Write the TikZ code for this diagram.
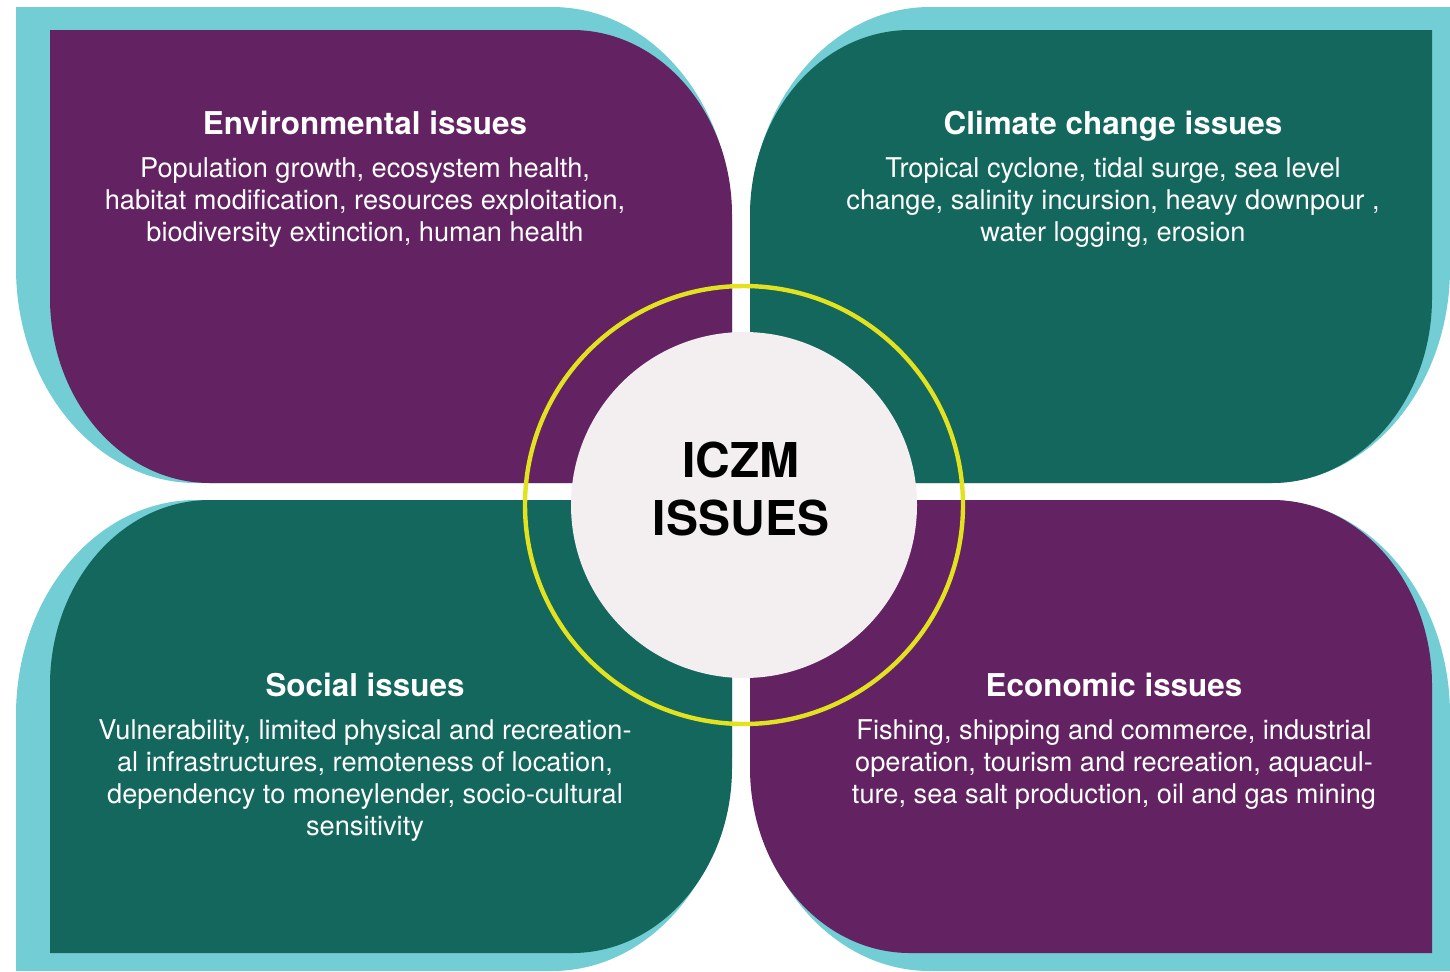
\documentclass[tikz,border=0pt]{standalone}
\usepackage{fontspec}
\setmainfont{TeX Gyre Heros}
\usepackage{tikz}
\usetikzlibrary{positioning}

\definecolor{leafpurple}{RGB}{99,34,98}
\definecolor{leafteal}{RGB}{19,103,92}
\definecolor{rim}{RGB}{114,205,212}
\definecolor{hubgray}{RGB}{243,238,240}
\definecolor{ringyellow}{RGB}{227,226,31}

\begin{document}
\begin{tikzpicture}[x=0.5pt, y=-0.5pt,
    head/.style = {text=white, font=\bfseries\fontsize{15.7}{19}\selectfont, inner sep=0pt},
    body/.style = {text=white, font=\fontsize{13.6}{16}\selectfont, align=center, inner sep=0pt},
    hub/.style = {circle, fill=hubgray, minimum size=173pt, inner sep=0pt},
    hubtext/.style = {font=\bfseries\fontsize{24}{29}\selectfont, align=center, inner sep=0pt},
    ring/.style = {draw=ringyellow, line width=2.2pt}]
    \fill[white] (0,0) rectangle (1450,971);
    \useasboundingbox (0,0) rectangle (1450,971);

    % top left
    \fill[rim] (16,7) -- (552,7) arc[start angle=270, end angle=360, x radius=180, y radius=215] -- (732,483) -- (196,483) arc[start angle=90, end angle=180, x radius=180, y radius=215] -- cycle;
    \fill[leafpurple] (50,30) -- (572,30) arc[start angle=270, end angle=360, x radius=160, y radius=185] -- (732,483) -- (210,483) arc[start angle=90, end angle=180, x radius=160, y radius=185] -- cycle;
    % top right
    \fill[rim] (1450,7) -- (1450,268) arc[start angle=0, end angle=90, x radius=180, y radius=215] -- (750,483) -- (750,222) arc[start angle=180, end angle=270, x radius=180, y radius=215] -- cycle;
    \fill[leafteal] (1432,30) -- (1432,298) arc[start angle=0, end angle=90, x radius=160, y radius=185] -- (750,483) -- (750,215) arc[start angle=180, end angle=270, x radius=160, y radius=185] -- cycle;
    % bottom left
    \fill[rim] (732,500) -- (732,756) arc[start angle=0, end angle=90, x radius=180, y radius=215] -- (16,971) -- (16,715) arc[start angle=180, end angle=270, x radius=180, y radius=215] -- cycle;
    \fill[leafteal] (732,500) -- (732,768) arc[start angle=0, end angle=90, x radius=160, y radius=185] -- (50,953) -- (50,685) arc[start angle=180, end angle=270, x radius=160, y radius=185] -- cycle;
    % bottom right
    \fill[rim] (750,500) -- (1270,500) arc[start angle=270, end angle=360, x radius=180, y radius=215] -- (1450,971) -- (930,971) arc[start angle=90, end angle=180, x radius=180, y radius=215] -- cycle;
    \fill[leafpurple] (750,500) -- (1272,500) arc[start angle=270, end angle=360, x radius=160, y radius=185] -- (1432,953) -- (910,953) arc[start angle=90, end angle=180, x radius=160, y radius=185] -- cycle;

    \node[hub] (hub) at (744,505) {};
    \draw[ring] (hub.center) circle[radius=219];
    \node[hubtext, anchor=north] (hublabel) at (741,442) {ICZM\\ISSUES};

    \node[head, anchor=base] (env) at (365,134) {Environmental issues};
    \node[body, below=11.5pt of env.base] (envtext) {Population growth, ecosystem health,\\habitat modification, resources exploitation,\\biodiversity extinction, human health};

    \node[head, anchor=base] (clim) at (1113,134) {Climate change issues};
    \node[body, below=11.5pt of clim.base] (climtext) {Tropical cyclone, tidal surge, sea level\\change, salinity incursion, heavy downpour ,\\water logging, erosion};

    \node[head, anchor=base] (soc) at (365,696) {Social issues};
    \node[body, below=11.5pt of soc.base] (soctext) {Vulnerability, limited physical and recreation-\\al infrastructures, remoteness of location,\\dependency to moneylender, socio-cultural\\sensitivity};

    \node[head, anchor=base] (eco) at (1114,696) {Economic issues};
    \node[body, below=11.5pt of eco.base] (ecotext) {Fishing, shipping and commerce, industrial\\operation, tourism and recreation, aquacul-\\ture, sea salt production, oil and gas mining};
\end{tikzpicture}
\end{document}
